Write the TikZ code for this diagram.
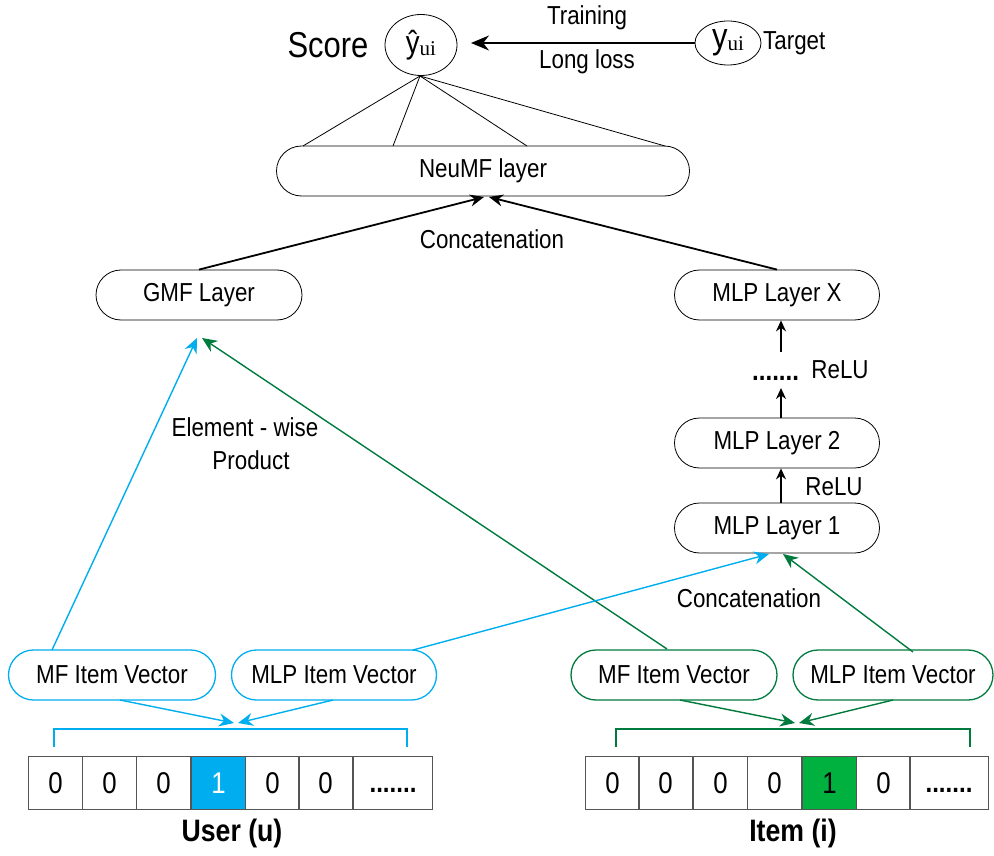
\documentclass[tikz,border=0pt]{standalone}
\usepackage{fontspec}
\setmainfont{Liberation Sans}[FakeStretch=0.86]
\newfontfamily\serifmath{Liberation Serif}
\usetikzlibrary{arrows.meta,shapes.geometric}
\definecolor{ublue}{HTML}{00AEEF}
\definecolor{igreen}{HTML}{007A3D}
\definecolor{cellgreen}{HTML}{00B140}
\definecolor{cellline}{HTML}{555555}

\begin{document}
\begin{tikzpicture}[x=1pt,y=-1pt,
  lbl/.style={font=\fontsize{26}{28}\selectfont, inner sep=0pt},
  pill/.style={draw, line width=0.8pt, rounded corners=25pt, minimum height=50pt,
    inner sep=0pt, font=\fontsize{26}{28}\selectfont},
  bluepill/.style={pill, draw=ublue, line width=1.3pt},
  greenpill/.style={pill, draw=igreen, line width=1.3pt},
  cell/.style={draw=cellline, line width=1pt, minimum width=54pt, minimum height=53pt,
    inner sep=0pt, anchor=west, font=\fontsize{30}{32}\selectfont},
  wide/.style={cell, minimum width=79pt},
  blk/.style={line width=1.8pt, -{Stealth[length=14pt,width=12pt]}},
  thin/.style={line width=0.8pt},
  upar/.style={line width=1.5pt, -{Stealth[length=11pt,width=10pt]}},
  bluear/.style={draw=ublue, line width=1.4pt, -{Stealth[length=15pt,width=13pt]}},
  greenar/.style={draw=igreen, line width=1.4pt, -{Stealth[length=15pt,width=13pt]}}
]
\useasboundingbox (0,0) rectangle (994,856);

% ---- output score and target ----
\node[font=\fontsize{36}{38}\selectfont, inner sep=0pt] (scorelbl) at (328,45) {Score};
\node[draw, ellipse, line width=0.8pt, minimum width=72pt, minimum height=61pt, inner sep=0pt]
  (score) at (421,45)
  {\fontsize{32}{32}\selectfont ŷ\raisebox{-2pt}{\serifmath\fontsize{21}{21}\selectfont ui}};
\node[draw, ellipse, line width=0.8pt, minimum width=66pt, minimum height=44pt, inner sep=0pt]
  (target) at (728,43)
  {\fontsize{36}{36}\selectfont\raisebox{3pt}{y}\raisebox{1pt}{\serifmath\fontsize{21}{21}\selectfont ui}};
\node[lbl, anchor=west] (targetlbl) at (763,43) {Target};
\coordinate (lossend) at (471,43);
\draw[line width=1.8pt, -{Stealth[length=18pt,width=15pt]}] (target.west) -- (lossend);
\node[lbl] (training) at (587,18) {Training};
\node[lbl] (loss) at (587,62) {Long loss};

% ---- NeuMF layer ----
\node[pill, minimum width=413pt] (neumf) at (483,171) {NeuMF layer};
\coordinate (top) at (420,76);
\coordinate (n1) at (303,146);
\coordinate (n2) at (393,146);
\coordinate (n3) at (527,146);
\coordinate (n4) at (665,146);
\foreach \p in {n1,n2,n3,n4} \draw[thin] (top) -- (\p);

% ---- GMF and MLP towers ----
\node[pill, minimum width=206pt] (gmf) at (199,295) {GMF Layer};
\node[pill, minimum width=205pt] (mlpx) at (777,295) {MLP Layer X};
\node[pill, minimum width=205pt] (mlp2) at (777,443) {MLP Layer 2};
\node[pill, minimum width=205pt] (mlp1) at (777,528) {MLP Layer 1};

\coordinate (cin1) at (484,197);
\coordinate (cin2) at (489,197);
\draw[blk] (gmf.north) -- (cin1);
\draw[blk] (mlpx.north) -- (cin2);
\node[lbl] (concat1) at (492,239) {Concatenation};

\node[font=\fontsize{28}{30}\selectfont\bfseries, inner sep=0pt, anchor=base west] (dots) at (752,380) {.......};
\node[lbl] (relu1) at (840,370) {ReLU};
\node[lbl] (relu2) at (834,487) {ReLU};
\coordinate (d1) at (781,352);
\coordinate (d2) at (781,388);
\draw[upar] (d1) -- (mlpx.south -| d1);
\draw[upar] (mlp2.north -| d2) -- (d2);
\draw[upar] (mlp1.north -| d2) -- (mlp2.south -| d2);

\node[lbl] (ew1) at (245,427) {Element - wise};
\node[lbl] (ew2) at (251,460) {Product};
\node[lbl] (concat2) at (749,598) {Concatenation};

% ---- user side ----
\node[bluepill, minimum width=207pt] (umf) at (112,675) {MF Item Vector};
\node[bluepill, minimum width=205pt] (umlp) at (334,675) {MLP Item Vector};

\node[cell] (u1) at (28,783) {0};
\node[cell] (u2) at (82,783) {0};
\node[cell] (u3) at (136,783) {0};
\node[cell, fill=ublue, text=white] (u4) at (191,783) {1};
\node[cell] (u5) at (245,783) {0};
\node[cell] (u6) at (298,783) {0};
\node[wide, font=\fontsize{28}{30}\selectfont\bfseries] (u7) at (353,783) {\vphantom{0}.......};
\node[font=\fontsize{31}{33}\selectfont\bfseries, inner sep=0pt] (ulbl) at (232,833) {User (u)};

\coordinate (ub1) at (54,747);
\coordinate (ub2) at (407,747);
\draw[ublue, line width=1.4pt] (ub1) -- (54,729) -- (407,729) -- (ub2);
\coordinate (uin1) at (234,723);
\coordinate (uin2) at (238,723);
\coordinate (umfout) at (120,700);
\coordinate (umlpout) at (333,700);
\draw[bluear] (umfout) -- (uin1);
\draw[bluear] (umlpout) -- (uin2);

% ---- item side ----
\node[greenpill, minimum width=206pt] (imf) at (674,675) {MF Item Vector};
\node[greenpill, minimum width=200pt] (imlp) at (893,675) {MLP Item Vector};

\node[cell] (i1) at (585,783) {0};
\node[cell] (i2) at (638,783) {0};
\node[cell] (i3) at (693,783) {0};
\node[cell] (i4) at (747,783) {0};
\node[cell, fill=cellgreen] (i5) at (802,783) {1};
\node[cell] (i6) at (856,783) {0};
\node[wide, font=\fontsize{28}{30}\selectfont\bfseries] (i7) at (909,783) {\vphantom{0}.......};
\node[font=\fontsize{31}{33}\selectfont\bfseries, inner sep=0pt] (ilbl) at (793,833) {Item (i)};

\coordinate (ib1) at (616,747);
\coordinate (ib2) at (970,747);
\draw[igreen, line width=1.4pt] (ib1) -- (616,729) -- (970,729) -- (ib2);
\coordinate (iin1) at (795,723);
\coordinate (iin2) at (799,723);
\coordinate (imfout) at (680,700);
\coordinate (imlpout) at (893,700);
\draw[greenar] (imfout) -- (iin1);
\draw[greenar] (imlpout) -- (iin2);

% ---- cross connections ----
\coordinate (gin1) at (197,338);
\coordinate (gin2) at (202,338);
\coordinate (umftop) at (52,650);
\coordinate (imftop) at (667,649);
\draw[bluear] (umftop) -- (gin1);
\draw[greenar] (imftop) -- (gin2);

\coordinate (m1in1) at (769,554);
\coordinate (m1in2) at (783,554);
\coordinate (umlptop) at (413,650);
\coordinate (imlptop) at (913,652);
\draw[bluear] (umlptop) -- (m1in1);
\draw[greenar] (imlptop) -- (m1in2);
\end{tikzpicture}
\end{document}
